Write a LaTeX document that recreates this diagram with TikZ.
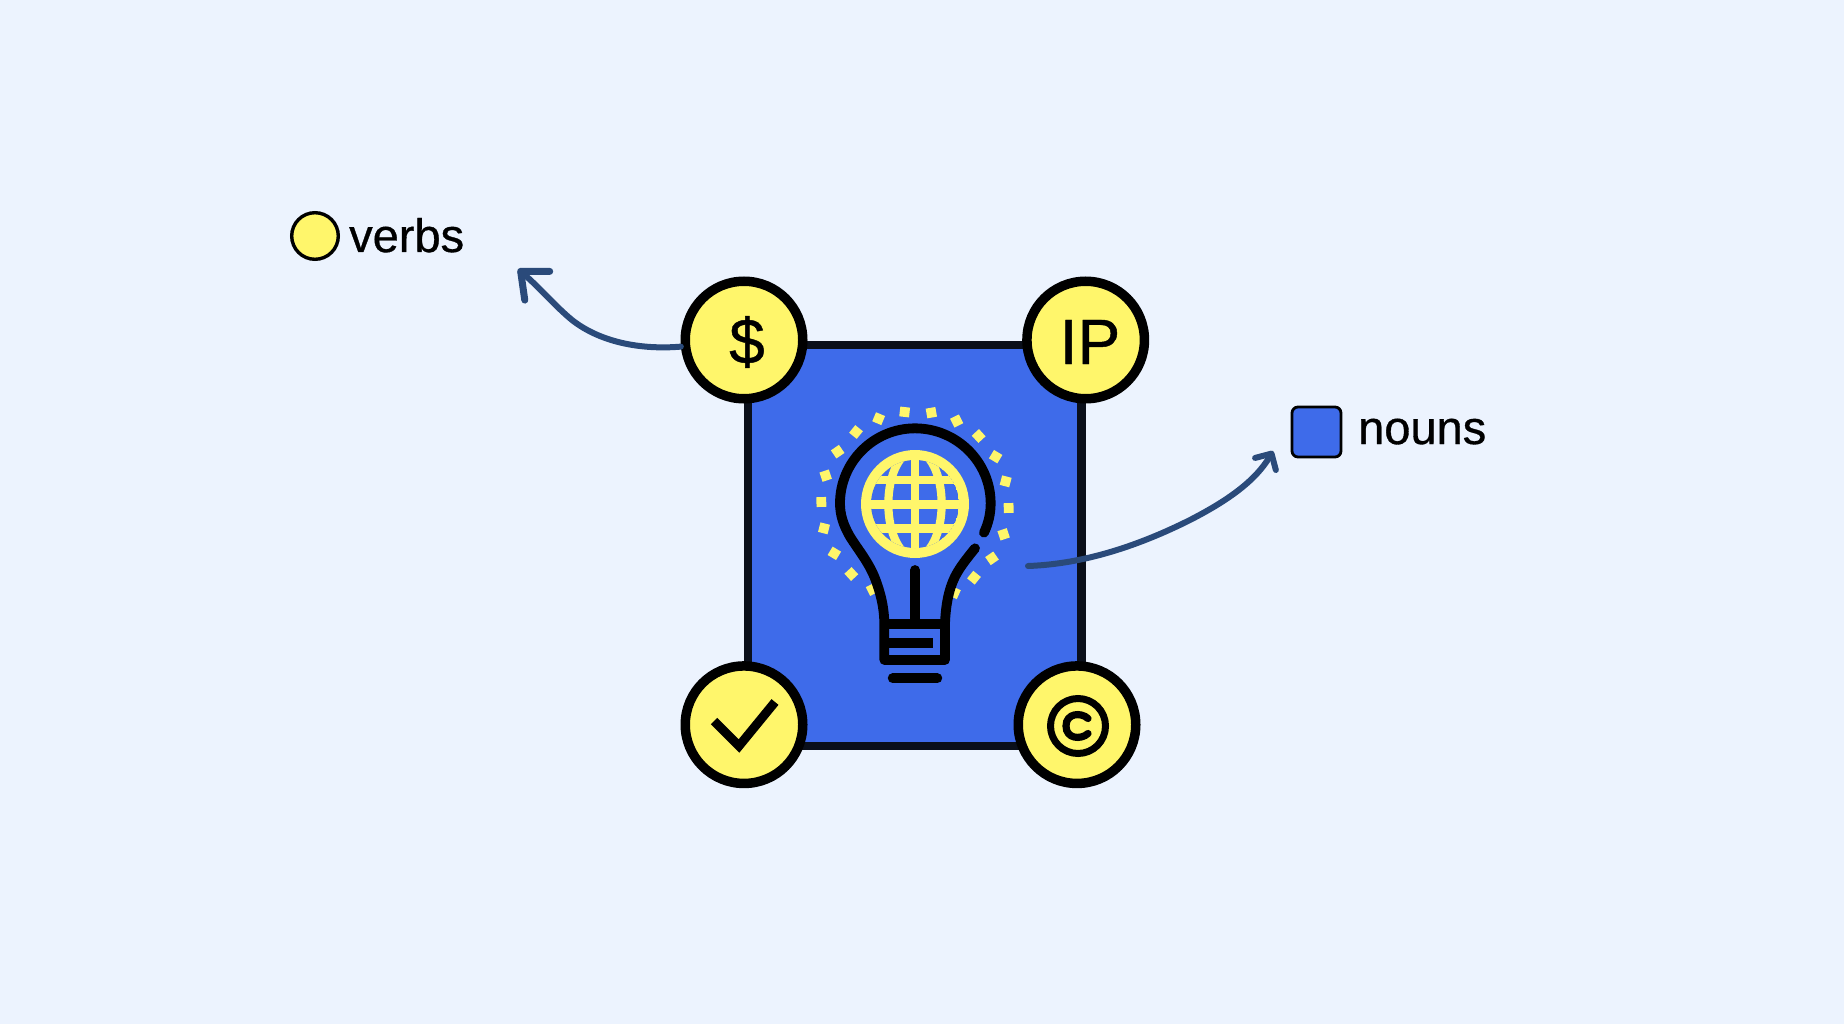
\documentclass[tikz,border=0pt]{standalone}
\usepackage{fontspec}
\setmainfont{Liberation Sans}[FakeBold=0.7]
\usetikzlibrary{arrows.meta}
\definecolor{bgc}{HTML}{ECF3FE}
\definecolor{yel}{HTML}{FFF66B}
\definecolor{blu}{HTML}{3E6BEA}
\definecolor{ink}{HTML}{0A0F1A}
\definecolor{arrowc}{HTML}{2A4A7A}
\tikzset{
  badge/.style={circle,draw=black,fill=yel,line width=9.5pt,minimum size=117.5pt,inner sep=0pt,font=\fontsize{64}{64}\selectfont},
  panel/.style={rectangle,draw=ink,fill=blu,line width=8.8pt,minimum width=333.7pt,minimum height=401pt,inner sep=0pt},
  legendtext/.style={anchor=base west,inner sep=0pt,text=black,font=\fontsize{47}{47}\selectfont},
  curvearrow/.style={draw=arrowc,line width=6pt,line cap=round},
  bulbline/.style={draw=black,line width=9.8pt,line cap=round,line join=round},
  globeline/.style={draw=yel,line width=8.6pt},
}
\begin{document}
\begin{tikzpicture}[x=1pt,y=-1pt]
\useasboundingbox (0,0) rectangle (1844,1024);
\fill[bgc] (0,0) rectangle (1844,1024);

% legend
\node[circle,draw=black,fill=yel,line width=3.4pt,minimum size=46.6pt,inner sep=0pt] (verbkey) at (315,236) {};
\node[legendtext] (verbtext) at (349,252) {verbs};
\node[rectangle,rounded corners=6pt,draw=black,fill=blu,line width=2.8pt,minimum width=49pt,minimum height=50pt,inner sep=0pt] (nounkey) at (1316.5,432) {};
\node[legendtext] (nountext) at (1358,444) {nouns};

% panel
\node[panel] (panel) at (914.8,545.5) {};

% dots
\foreach \px/\py in {374/66,454/68,530/93,596/138,647/200,677/274,686/354,671/433,636/505,582/563,523/608,277/598,214/552,163/490,132/415,124/336,137/257,173/185,228/126,296/86}{
  \pgfmathsetmacro{\ang}{atan2(\px-405,345-\py)}
  \begin{scope}[shift={(780+\px/3,390+\py/3)},rotate=\ang]
    \fill[yel] (-4.9,-4.9) rectangle (4.9,4.9);
  \end{scope}
}

% bulb
\begin{scope}[shift={(780,390)},x=0.33333pt,y=-0.33333pt]
  \fill[blu] (612,428) .. controls (625,400) and (632,372) .. (632,340)
    .. controls (632,216) and (530,115) .. (405,115)
    .. controls (281,115) and (180,216) .. (180,340)
    .. controls (180,375) and (190,405) .. (210,440)
    .. controls (235,480) and (265,515) .. (285,565)
    .. controls (302,610) and (312,650) .. (313,700)
    -- (313,810) -- (495,810) -- (495,700)
    .. controls (497,650) and (505,600) .. (525,560)
    .. controls (540,530) and (565,500) .. (585,475) -- cycle;
  % globe
  \fill[yel] (405,342) circle[radius=162];
  \begin{scope}
    \clip (405,342) circle[radius=132];
    \fill[blu] (405,342) circle[radius=132];
    \draw[globeline] (405,150) -- (405,530);
    \draw[globeline] (240,343) -- (570,343);
    \draw[globeline] (240,270) -- (570,270);
    \draw[globeline] (240,416) -- (570,416);
    \draw[globeline,line width=8.2pt] (405,342) ellipse[x radius=80,y radius=160];
  \end{scope}
  % outline
  \draw[bulbline] (612,428) .. controls (625,400) and (632,372) .. (632,340)
    .. controls (632,216) and (530,115) .. (405,115)
    .. controls (281,115) and (180,216) .. (180,340)
    .. controls (180,375) and (190,405) .. (210,440)
    .. controls (235,480) and (265,515) .. (285,565)
    .. controls (302,610) and (312,650) .. (313,700)
    -- (313,810) -- (495,810) -- (495,700)
    .. controls (497,650) and (505,600) .. (525,560)
    .. controls (540,530) and (565,500) .. (585,475);
  \draw[bulbline] (405,540) -- (405,702);
  \draw[bulbline,line cap=butt] (313,702) -- (495,702);
  \draw[bulbline,line cap=butt,line width=10pt] (313,758) -- (458,758);
  \draw[bulbline] (338,865) -- (472,865);
\end{scope}

% corner badges
\node[badge] (dollar) at (744,340) {};
\node[badge] (ip) at (1085.7,340) {};
\node[badge] (check) at (744,724.7) {};
\node[badge] (copy) at (1077,724.7) {};
\node[inner sep=0pt,font=\fontsize{64}{64}\selectfont] (dollartext) at (747,342) {\$};
\node[inner sep=0pt,font=\fontsize{64}{64}\selectfont] (iptext) at (1090,342) {IP};

% check mark
\draw[draw=black,line width=9pt,miter limit=10] (714,721) -- (739,746) -- (775,702);
% copyright mark
\draw[black,line width=7pt] (1078,726) circle[radius=27.5];
\draw[black,line width=7.2pt,line cap=round] (1088,718.5) .. controls (1081,712) and (1066,713) .. (1066,726) .. controls (1066,739) and (1081,740) .. (1088,733.5);

% arrows
\coordinate (verbtip) at (518,269);
\coordinate (nounstart) at (1028,566);
\coordinate (nountip) at (1273,451);
\draw[curvearrow,-{Straight Barb[length=22pt,width=38pt,round,line width=7pt]}] (dollar.186)
  .. controls (640,350) and (600,342) .. (572,320)
  .. controls (555,306) and (541,289) .. (verbtip);
\draw[curvearrow,-{Straight Barb[length=12pt,width=24pt,round,line width=6pt]}] (nounstart)
  .. controls (1085,564) and (1140,545) .. (1190,520)
  .. controls (1225,502) and (1255,482) .. (nountip);
\end{tikzpicture}
\end{document}
